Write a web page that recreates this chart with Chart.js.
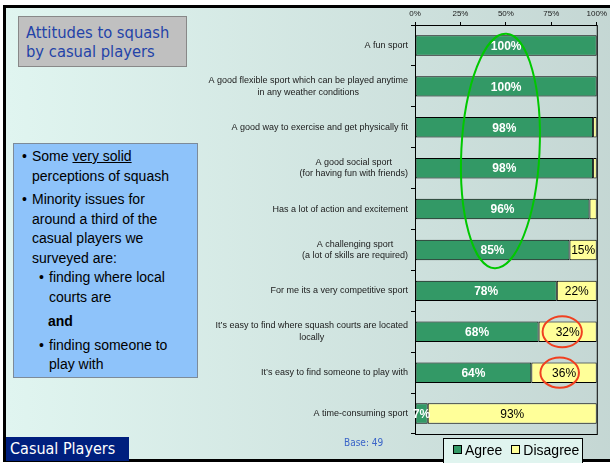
<!DOCTYPE html>
<html>
<head>
<meta charset="utf-8">
<script src="https://cdn.jsdelivr.net/npm/chart.js@4.4.1/dist/chart.umd.min.js"></script>
<style>
  html, body { margin: 0; padding: 0; background: #fff; }
  body { width: 610px; height: 463px; position: relative; overflow: hidden; }
  #frame {
    position: absolute; left: 3px; top: 5px; width: 660px; height: 451px;
    border: 3px solid #000;
    background: linear-gradient(to right, #e0f5f0, #c2d4d1);
  }
  #chart { position: absolute; left: 0; top: 0; width: 610px; height: 463px; }
  .box { position: absolute; box-sizing: border-box; }
  #title {
    left: 18px; top: 16px; width: 169px; height: 51px;
    background: #c0c0c0; border: 1px solid #888;
    color: #2443a8; font: 16.4px "DejaVu Sans Condensed", "DejaVu Sans", sans-serif;
    line-height: 19px; padding: 6px 0 0 7px;
  }
  #notes {
    left: 13px; top: 143px; width: 185px; height: 235px;
    background: #8ec3fa; border: 1px solid #7d8b99;
    font: 14px "Liberation Sans", Arial, sans-serif; color: #000;
    line-height: 19.5px; padding: 3px 16px 0 0;
  }
  #notes ul { margin: 0; padding: 0; list-style: none; }
  #notes li { position: relative; padding-left: 18px; margin-bottom: 4px; }
  #notes li::before { content: "\2022"; position: absolute; left: 8px; }
  #notes ul ul li { padding-left: 17px; margin-bottom: 0; }
  #notes ul ul li::before { left: 7px; }
  #notes .and { font-weight: bold; padding-left: 16px; margin: 5px 0 4px 0; }
  #notes .and::before { content: none; }
  #footer {
    left: 6px; top: 437px; width: 123px; height: 24px;
    background: #001f7e; color: #fff;
    font: 16px "DejaVu Sans Condensed", "DejaVu Sans", sans-serif;
    line-height: 24px; padding-left: 4px;
  }
  #base {
    left: 344px; top: 437px; color: #3a64c8;
    font: 10px "DejaVu Sans Condensed", "DejaVu Sans", sans-serif;
  }
  #legend {
    left: 443px; top: 438px; width: 140px; height: 26px;
    background: #e0f4ef; border: 1px solid #000;
    font: 14px "Liberation Sans", Arial, sans-serif; color: #000;
    padding: 3px 0 0 9px; white-space: nowrap;
  }
  #legend span.sw {
    display: inline-block; width: 7px; height: 7px; border: 1px solid #000;
    margin-right: 3px; vertical-align: 1px;
  }
  #legend span.item { margin-right: 9px; }
</style>
</head>
<body>
<div id="frame"></div>
<canvas id="chart" width="610" height="463"></canvas>

<div class="box" id="title">Attitudes to squash<br>by casual players</div>

<div class="box" id="notes">
  <ul>
    <li>Some <u>very solid</u> perceptions of squash</li>
    <li>Minority issues for around a third of the casual players we surveyed are:
      <ul>
        <li>finding where local courts are</li>
        <li class="and">and</li>
        <li>finding someone to play with</li>
      </ul>
    </li>
  </ul>
</div>

<div class="box" id="footer">Casual Players</div>
<div class="box" id="base">Base: 49</div>
<div class="box" id="legend"></div>

<script>
const categories = [
  'A fun sport',
  ['A good flexible sport which can be played anytime', 'in any weather conditions'],
  'A good way to exercise and get physically fit',
  ['A good social sport', '(for having fun with friends)'],
  'Has a lot of action and excitement',
  ['A challenging sport', '(a lot of skills are required)'],
  'For me its a very competitive sport',
  ['It\u2019s easy to find where squash courts are located', 'locally'],
  'It\u2019s easy to find someone to play with',
  'A time-consuming sport'
];
const agree = [100, 100, 98, 98, 96, 85, 78, 68, 64, 7];
const disagree = [0, 0, 2, 2, 4, 15, 22, 32, 36, 93];
const seriesNames = ['Agree', 'Disagree'];
const seriesColors = ['#339966', '#ffff99'];
const xTicks = [0, 25, 50, 75, 100];

// highlight rings, in axis units (x = percent, y = category index)
const rings = [
  { x: 47, rx: 21.5, y: 2.58, ry: 2.87, rot: 0.05, color: '#00c800' },
  { x: 81, rx: 10.8, y: 7, ry: 0.38, rot: 0, color: '#f04020' },
  { x: 79.6, rx: 10.6, y: 8, ry: 0.37, rot: 0, color: '#f04020' }
];

const font = '"Liberation Sans", Arial, sans-serif';

// legend from series
document.getElementById('legend').innerHTML = seriesNames.map((n, i) =>
  '<span class="item"><span class="sw" style="background:' + seriesColors[i] + '"></span>' + n + '</span>'
).join('');

const catLabels = {
  id: 'catLabels',
  afterDraw(chart) {
    const ctx = chart.ctx;
    const ys = chart.scales.y;
    ctx.save();
    ctx.font = '9px ' + font;
    ctx.fillStyle = '#1a1a1a';
    ctx.textBaseline = 'middle';
    ctx.textAlign = 'center';
    categories.forEach((c, i) => {
      const lines = Array.isArray(c) ? c : [c];
      const w = Math.max(...lines.map(l => ctx.measureText(l).width));
      const cx = 408 - w / 2;
      const y0 = ys.getPixelForTick(i) - (lines.length - 1) * 11.7 / 2;
      lines.forEach((l, k) => ctx.fillText(l, cx, y0 + k * 11.7));
    });
    ctx.restore();
  }
};

const barLabels = {
  id: 'barLabels',
  afterDatasetsDraw(chart) {
    const ctx = chart.ctx;
    const a = chart.chartArea;
    ctx.save();
    // plot frame (right + bottom edges)
    ctx.strokeStyle = '#000';
    ctx.lineWidth = 1;
    ctx.strokeRect(a.left + 0.5, a.top + 0.5, a.right - a.left, a.bottom - a.top);
    ctx.textAlign = 'center';
    ctx.textBaseline = 'middle';
    chart.data.datasets.forEach((ds, di) => {
      const meta = chart.getDatasetMeta(di);
      meta.data.forEach((bar, i) => {
        const v = ds.data[i];
        if (v < 5) return;
        ctx.font = (di === 0 ? 'bold ' : '') + '12px ' + font;
        ctx.fillStyle = di === 0 ? '#fff' : '#000';
        ctx.fillText(v + '%', (bar.x + bar.base) / 2, bar.y + 1);
      });
    });
    // rings
    const xs = chart.scales.x, ys = chart.scales.y;
    const step = ys.getPixelForValue(1) - ys.getPixelForValue(0);
    ctx.lineWidth = 2;
    rings.forEach(r => {
      const cx = xs.getPixelForValue(r.x);
      const rx = xs.getPixelForValue(r.x + r.rx) - cx;
      const cy = ys.getPixelForValue(0) + r.y * step;
      ctx.strokeStyle = r.color;
      ctx.beginPath();
      ctx.ellipse(cx, cy, rx, r.ry * step, r.rot, 0, Math.PI * 2);
      ctx.stroke();
    });
    ctx.restore();
  }
};

new Chart(document.getElementById('chart'), {
  type: 'bar',
  data: {
    labels: categories,
    datasets: [agree, disagree].map((d, i) => ({
      label: seriesNames[i],
      data: d,
      backgroundColor: seriesColors[i],
      borderColor: '#000',
      borderWidth: 1,
      borderSkipped: false,
      categoryPercentage: 1,
      barPercentage: 0.5
    }))
  },
  options: {
    indexAxis: 'y',
    responsive: false,
    animation: false,
    layout: { padding: { top: 0, right: 9, bottom: 29, left: 0 } },
    plugins: { legend: { display: false }, tooltip: { enabled: false } },
    scales: {
      x: {
        position: 'top',
        stacked: true,
        min: 0,
        max: 100,
        afterBuildTicks: s => { s.ticks = xTicks.map(v => ({ value: v })); },
        afterFit: s => { s.height = 25; },
        ticks: {
          callback: v => v + '%',
          font: { size: 8, family: font },
          color: '#1a1a1a',
          padding: 3,
          maxRotation: 0
        },
        grid: { drawOnChartArea: false, color: '#000', tickLength: 3 },
        border: { color: '#000' }
      },
      y: {
        stacked: true,
        ticks: { display: false },
        afterFit: s => { s.width = 415; },
        grid: { offset: true, drawOnChartArea: false, color: '#000', tickLength: 4 },
        border: { color: '#000' }
      }
    }
  },
  plugins: [catLabels, barLabels]
});
</script>
</body>
</html>
